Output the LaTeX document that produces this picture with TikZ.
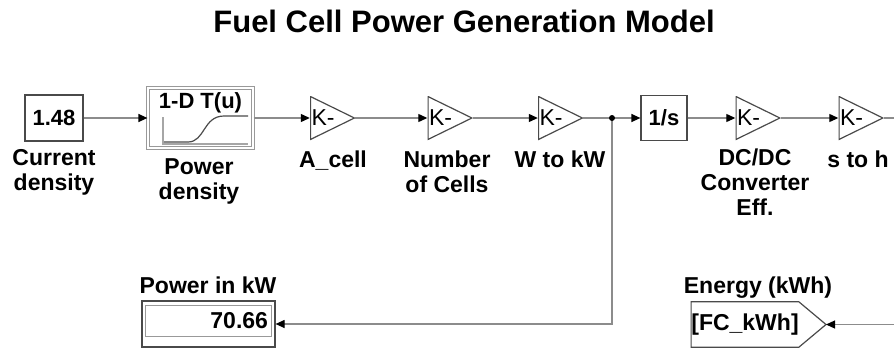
\documentclass[tikz,border=0pt]{standalone}
\usepackage{fontspec}
\setmainfont{Liberation Sans}
\usetikzlibrary{arrows.meta,positioning}
\definecolor{wiregray}{HTML}{8C8C8C}
\definecolor{blockgray}{HTML}{4A4A4A}
\begin{document}
\begin{tikzpicture}[x=1pt, y=-1pt,
  wire/.style={draw=wiregray, line width=1.2pt},
  sig/.style={wire, -{Triangle[length=9pt, width=8pt, color=black]}},
  blk/.style={draw=blockgray, line width=1.2pt, fill=white, inner sep=0pt,
    font=\fontsize{22}{26}\selectfont\bfseries},
  gain/.style={minimum width=45pt, minimum height=44pt, inner sep=0pt,
    text width=42pt, align=left, font=\fontsize{23}{24}\selectfont,
    path picture={\draw[blockgray, line width=1.2pt]
      ([shift={(0.6pt,-0.6pt)}]path picture bounding box.north west)
      -- ([xshift=-0.6pt]path picture bounding box.east)
      -- ([shift={(0.6pt,0.6pt)}]path picture bounding box.south west) -- cycle;}},
  lbl/.style={font=\fontsize{23}{25}\selectfont\bfseries, align=center,
    inner sep=0pt, anchor=north}]
  \useasboundingbox (0,0) rectangle (894,351);
  \node[font=\fontsize{31}{31}\selectfont\bfseries, anchor=base] (title) at (464,32)
    {Fuel Cell Power Generation Model};

  % top chain
  \node[blk, minimum width=58pt, minimum height=46pt] (cd) at (54,118) {1.48};
  \node[blk, minimum width=105pt, minimum height=60pt, draw=gray!80,
    double=white, double distance=2pt] (lut) at (200.5,118) {};
  \node[blk, anchor=north, draw=none, fill=none] (luttxt) at (200.5,92) {1-D T(u)};
  \draw[gray!70, line width=1.4pt] (163,117) -- (163,144) -- (248,144);
  \draw[blockgray, line width=1.2pt] (164,142) -- (188,142)
    .. controls (205,142) and (203,116) .. (224,116) -- (248,116);
  \node[gain] (acell) at (332.5,118) {K-};
  \node[gain] (ncell) at (450,118) {K-};
  \node[gain] (wkw) at (560.5,118) {K-};
  \coordinate (jn) at (612,118);
  \node[blk, minimum width=46pt, minimum height=45pt] (integ) at (664,118) {1/s};
  \node[gain] (dcdc) at (758,118) {K-};
  \node[gain] (stoh) at (861,118) {K-};
  \coordinate (outA) at (894,118);

  \node[lbl] (cdl) at (54,149) {Current\\density};
  \node[lbl] (lutl) at (199,158) {Power\\density};
  \node[lbl] (acelll) at (333,151) {A\_cell};
  \node[lbl] (ncelll) at (447,151) {Number\\of Cells};
  \node[lbl] (wkwl) at (560,151) {W to kW};
  \node[lbl] (dcdcl) at (755,149) {DC/DC\\Converter\\Eff.};
  \node[lbl] (stohl) at (858,151) {s to h};

  % sinks
  \node[blk, minimum width=133pt, minimum height=46pt, text width=119pt,
    align=right, text depth=8pt, font=\fontsize{23}{26}\selectfont\bfseries]
    (disp) at (208.5,324) {70.66};
  \draw[gray!80, line width=1pt] ([shift={(4pt,-5pt)}]disp.north west)
    rectangle ([shift={(-4pt,11pt)}]disp.south east);
  \node[lbl] (displ) at (208,277) {Power in kW};
  \node[font=\fontsize{23}{25}\selectfont\bfseries, inner sep=0pt,
    minimum width=106pt, minimum height=45pt] (goto) at (745,324.5) {[FC\_kWh]};
  \coordinate (gtip) at (826,324.5);
  \draw[blockgray, line width=1.2pt] (goto.north west) -- (goto.north east)
    -- (gtip) -- (goto.south east) -- (goto.south west) -- cycle;
  \node[lbl] (gotol) at (758,277) {Energy (kWh)};
  \coordinate (outB) at (894,324.5);

  % wires
  \draw[sig] (cd) -- (lut);
  \draw[sig] (lut) -- (acell);
  \draw[sig] (acell.east) -- (ncell.west);
  \draw[sig] (ncell.east) -- (wkw.west);
  \draw[wire] (wkw.east) -- (jn);
  \draw[sig] (jn) -- (integ);
  \draw[sig] (jn) |- (disp.east);
  \fill (jn) circle (3pt);
  \draw[sig] (integ) -- (dcdc.west);
  \draw[sig] (dcdc.east) -- (stoh.west);
  \draw[wire] (stoh.east) -- (outA);
  \draw[sig] (outB) -- (gtip);
\end{tikzpicture}
\end{document}
